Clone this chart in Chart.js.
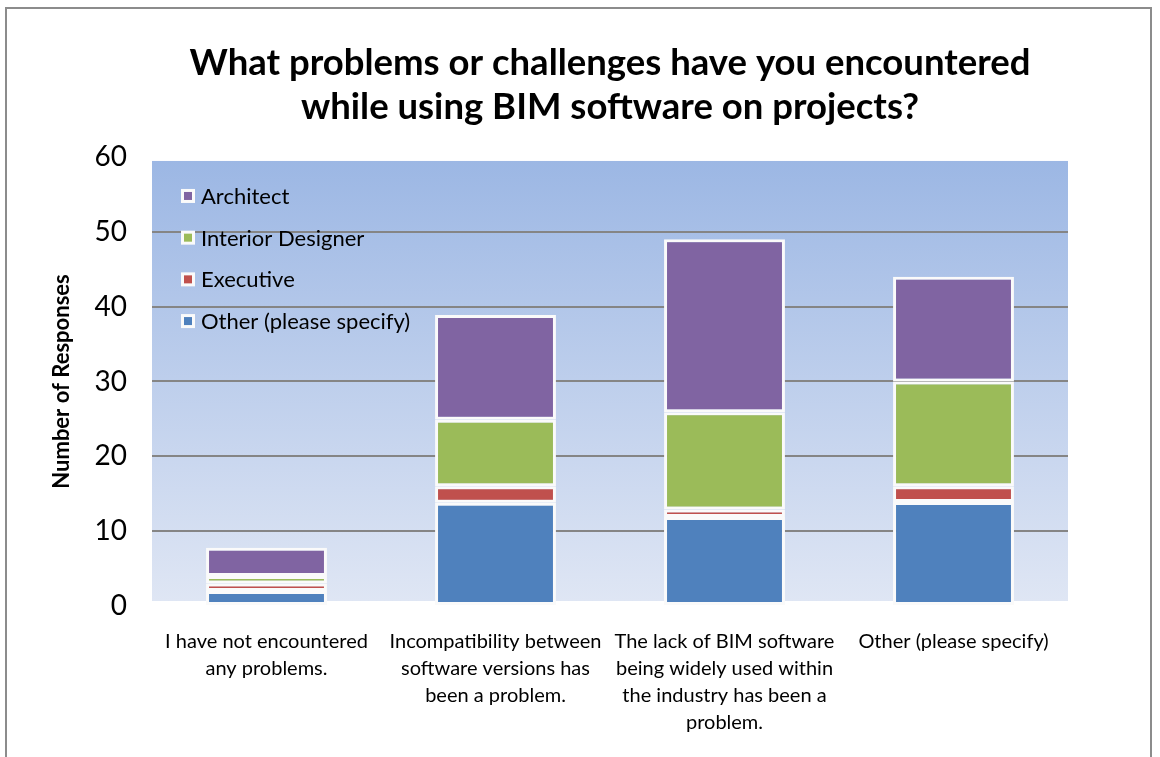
<!DOCTYPE html>
<html>
<head>
<meta charset="utf-8">
<title>BIM software problems</title>
<script src="https://cdn.jsdelivr.net/npm/chart.js"></script>
<style>
    body { margin: 0; background: #fff; }
    #wrap { position: relative; width: 1160px; height: 757px; overflow: hidden; }
    #frame {
        position: absolute; left: 5px; top: 7px; width: 1143px; height: 800px;
        border: 2px solid #8c8c8c; pointer-events: none;
    }
</style>
</head>
<body>
<div id="wrap">
    <canvas id="chart" width="1160" height="757"></canvas>
    <div id="frame"></div>
</div>
<script>
// categories (x axis labels, already wrapped as in the original)
const categories = [
    ["I have not encountered", "any problems."],
    ["Incompatibility between", "software versions has", "been a problem."],
    ["The lack of BIM software", "being widely used within", "the industry has been a", "problem."],
    ["Other (please specify)"]
];

// series, bottom of the stack first
const otherValues = [2, 13.8, 11.9, 13.9];
const executiveValues = [1, 2.2, 1, 2.1];
const interiorValues = [1, 8.9, 13, 14];
const architectValues = [3.8, 14, 23.1, 14];

const yTicks = [0, 10, 20, 30, 40, 50, 60];

const FONT = "Lato, 'Open Sans', sans-serif";

// plot background gradient (drawn behind gridlines)
const plotBackground = {
    id: 'plotBackground',
    beforeDraw(chart) {
        const { ctx, chartArea } = chart;
        const top = chartArea.top + 4;
        const bottom = chartArea.bottom - 5;
        const grad = ctx.createLinearGradient(0, top, 0, bottom);
        grad.addColorStop(0, '#9cb7e4');
        grad.addColorStop(1, '#dfe6f4');
        ctx.save();
        ctx.fillStyle = grad;
        ctx.fillRect(chartArea.left, top, chartArea.right - chartArea.left, bottom - top);
        ctx.restore();
    }
};

// legend sits inside the plot, top series listed first
const insideLegend = {
    id: 'insideLegend',
    afterDatasetsDraw(chart) {
        const { ctx, chartArea } = chart;
        const items = chart.data.datasets.slice().reverse();
        ctx.save();
        ctx.font = "22px " + FONT;
        ctx.textBaseline = 'middle';
        items.forEach((ds, i) => {
            const y = chartArea.top + 39 + i * 41.7;
            const x = chartArea.left + 29;
            ctx.fillStyle = '#fafafa';
            ctx.fillRect(x, y - 7, 14, 14);
            ctx.fillStyle = ds.backgroundColor;
            ctx.fillRect(x + 3, y - 4, 8, 8);
            ctx.fillStyle = '#000';
            ctx.fillText(ds.label, x + 20, y + 1);
        });
        ctx.restore();
    }
};

const ctx = document.getElementById('chart').getContext('2d');

function makeSet(label, data, color) {
    return {
        label: label,
        data: data,
        backgroundColor: color,
        borderColor: '#fafafa',
        borderWidth: 3,
        borderSkipped: false,
        barPercentage: 0.528,
        categoryPercentage: 1
    };
}

new Chart(ctx, {
    type: 'bar',
    data: {
        labels: categories,
        datasets: [
            makeSet('Other (please specify)', otherValues, '#4f81bd'),
            makeSet('Executive', executiveValues, '#c0504d'),
            makeSet('Interior Designer', interiorValues, '#9bbb59'),
            makeSet('Architect', architectValues, '#8064a2')
        ]
    },
    options: {
        responsive: false,
        animation: false,
        layout: { padding: { left: 0, right: 92, top: 0, bottom: 0 } },
        plugins: {
            legend: { display: false },
            tooltip: { enabled: false },
            title: {
                display: true,
                fullSize: false,
                text: ['What problems or challenges have you encountered', 'while using BIM software on projects?'],
                color: '#000',
                font: { family: FONT, size: 36.5, weight: 'bold', lineHeight: 1.205 },
                padding: { top: 41, bottom: 28 }
            }
        },
        scales: {
            x: {
                stacked: true,
                grid: { display: false, drawTicks: false },
                border: { display: false },
                ticks: {
                    color: '#000',
                    maxRotation: 0,
                    autoSkip: false,
                    padding: 22,
                    font: { family: FONT, size: 20, lineHeight: 1.35 }
                },
                afterFit(scale) { scale.height = 151; }
            },
            y: {
                stacked: true,
                min: 0,
                max: 60,
                afterBuildTicks(scale) {
                    scale.ticks = yTicks.map(v => ({ value: v }));
                },
                grid: {
                    drawTicks: false,
                    lineWidth: 2,
                    color: (c) => (c.tick && (c.tick.value === 0 || c.tick.value === 60)) ? 'rgba(0,0,0,0)' : '#858585'
                },
                border: { display: false },
                ticks: {
                    color: '#000',
                    padding: 25,
                    font: { family: FONT, size: 28 }
                },
                title: {
                    display: true,
                    text: 'Number of Responses',
                    color: '#000',
                    font: { family: FONT, size: 22, weight: 'bold', lineHeight: 1.2 },
                    padding: { top: 49, bottom: 0 }
                },
                afterFit(scale) { scale.width = 152; }
            }
        }
    },
    plugins: [plotBackground, insideLegend]
});
</script>
</body>
</html>
